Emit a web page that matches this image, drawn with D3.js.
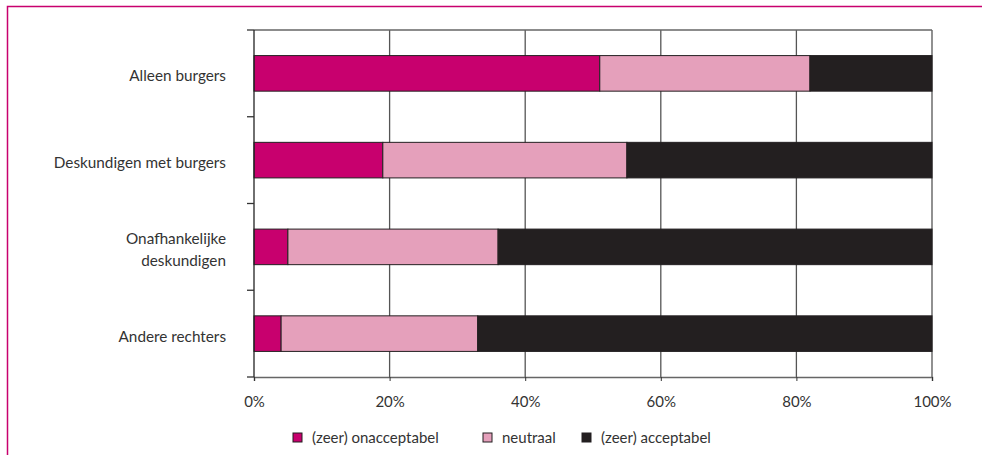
<!DOCTYPE html>
<html><head><meta charset="utf-8">
<script src="https://cdn.jsdelivr.net/npm/d3@7"></script>
<style>body{margin:0;background:#fff;}svg{display:block;}</style>
</head><body>
<svg id="c" width="982" height="455"></svg>
<script>
const categories = ["Alleen burgers", "Deskundigen met burgers", "Onafhankelijke deskundigen", "Andere rechters"];
const categoryLines = [["Alleen burgers"], ["Deskundigen met burgers"], ["Onafhankelijke", "deskundigen"], ["Andere rechters"]];
const seriesNames = ["(zeer) onacceptabel", "neutraal", "(zeer) acceptabel"];
const onacceptabel = [51, 19, 5, 4];
const neutraal = [31, 36, 31, 29];
const acceptabel = [18, 45, 64, 67];
const xTicks = [0, 20, 40, 60, 80, 100];
const colors = ["#c8006e", "#e5a0bb", "#231f20"];

const svg = d3.select("#c");
const font = "Lato, 'Open Sans', sans-serif";
const m = {left: 254, right: 982 - 932, top: 30, bottom: 455 - 377};
const W = 982, H = 455;

// frame
svg.append("path").attr("d", `M7.5,455 V6.5 H982`).attr("fill", "none")
  .attr("stroke", "#c8006e").attr("stroke-width", 1.5);

const x = d3.scaleLinear().domain([0, 100]).range([m.left, W - m.right]);
const y = d3.scaleBand().domain(categories).range([m.top, H - m.bottom]).paddingInner(0.59).paddingOuter(0.295);
const yOuter = d3.scaleBand().domain(categories).range([m.top, H - m.bottom]);

// gridlines
svg.append("g").selectAll("line").data(xTicks.slice(1)).join("line")
  .attr("x1", d => x(d)).attr("x2", d => x(d))
  .attr("y1", m.top).attr("y2", H - m.bottom)
  .attr("stroke", "#555").attr("stroke-width", 1.3);
// top line
svg.append("line").attr("x1", x(0)).attr("x2", x(100)).attr("y1", m.top).attr("y2", m.top)
  .attr("stroke", "#666").attr("stroke-width", 1.5);

// stacked data
const rows = categories.map((c, i) => ({cat: c, v: [onacceptabel[i], neutraal[i], acceptabel[i]]}));
const stack = d3.stack().keys([0, 1, 2]).value((d, k) => d.v[k]);
const stacked = stack(rows);

svg.append("g").selectAll("g").data(stacked).join("g")
  .attr("fill", (d, i) => colors[i])
  .selectAll("rect").data(d => d).join("rect")
  .attr("x", d => x(d[0])).attr("width", d => x(d[1]) - x(d[0]))
  .attr("y", d => y(d.data.cat)).attr("height", y.bandwidth())
  .attr("stroke", "#231f20").attr("stroke-width", 1);

// x axis
const xAxis = svg.append("g").attr("transform", `translate(0,${H - m.bottom})`)
  .call(d3.axisBottom(x).tickValues(xTicks).tickFormat(d => d + "%").tickSize(4).tickPadding(15));
xAxis.select(".domain").attr("stroke", "#666").attr("stroke-width", 1.5);
xAxis.selectAll(".tick line").attr("stroke", "#333");
xAxis.selectAll("text").attr("font-family", font).attr("font-size", 15).attr("fill", "#333");

// y axis
const yAxisG = svg.append("g").attr("transform", `translate(${m.left},0)`);
yAxisG.append("line").attr("x1", 0).attr("x2", 0).attr("y1", m.top).attr("y2", H - m.bottom)
  .attr("stroke", "#222").attr("stroke-width", 1.3);
const bounds = categories.map(c => yOuter(c)).concat([H - m.bottom]);
yAxisG.selectAll("line.t").data(bounds).join("line").attr("class", "t")
  .attr("x1", -7).attr("x2", 0).attr("y1", d => d).attr("y2", d => d)
  .attr("stroke", "#333").attr("stroke-width", 1.3);

const labels = svg.append("g").selectAll("text").data(categories).join("text")
  .attr("x", 226).attr("text-anchor", "end")
  .attr("font-family", font).attr("font-size", 15.3).attr("fill", "#333");
labels.each(function(c, i) {
  const lines = categoryLines[i];
  const cy = y(c) + y.bandwidth() / 2;
  const lh = 22;
  d3.select(this).selectAll("tspan").data(lines).join("tspan")
    .attr("x", 226)
    .attr("y", (d, j) => cy + 8 + (j - (lines.length - 1) / 2) * lh)
    .text(d => d);
});

// legend
const legendX = [293, 483, 582];
const lg = svg.append("g").selectAll("g").data(seriesNames).join("g")
  .attr("transform", (d, i) => `translate(${legendX[i]},438)`);
lg.append("rect").attr("x", 0).attr("y", -5).attr("width", 9).attr("height", 9)
  .attr("fill", (d, i) => colors[i]).attr("stroke", "#231f20").attr("stroke-width", 1);
lg.append("text").attr("x", 19).attr("y", 5).text(d => d)
  .attr("font-family", font).attr("font-size", 15).attr("fill", "#333");
</script>
</body></html>
